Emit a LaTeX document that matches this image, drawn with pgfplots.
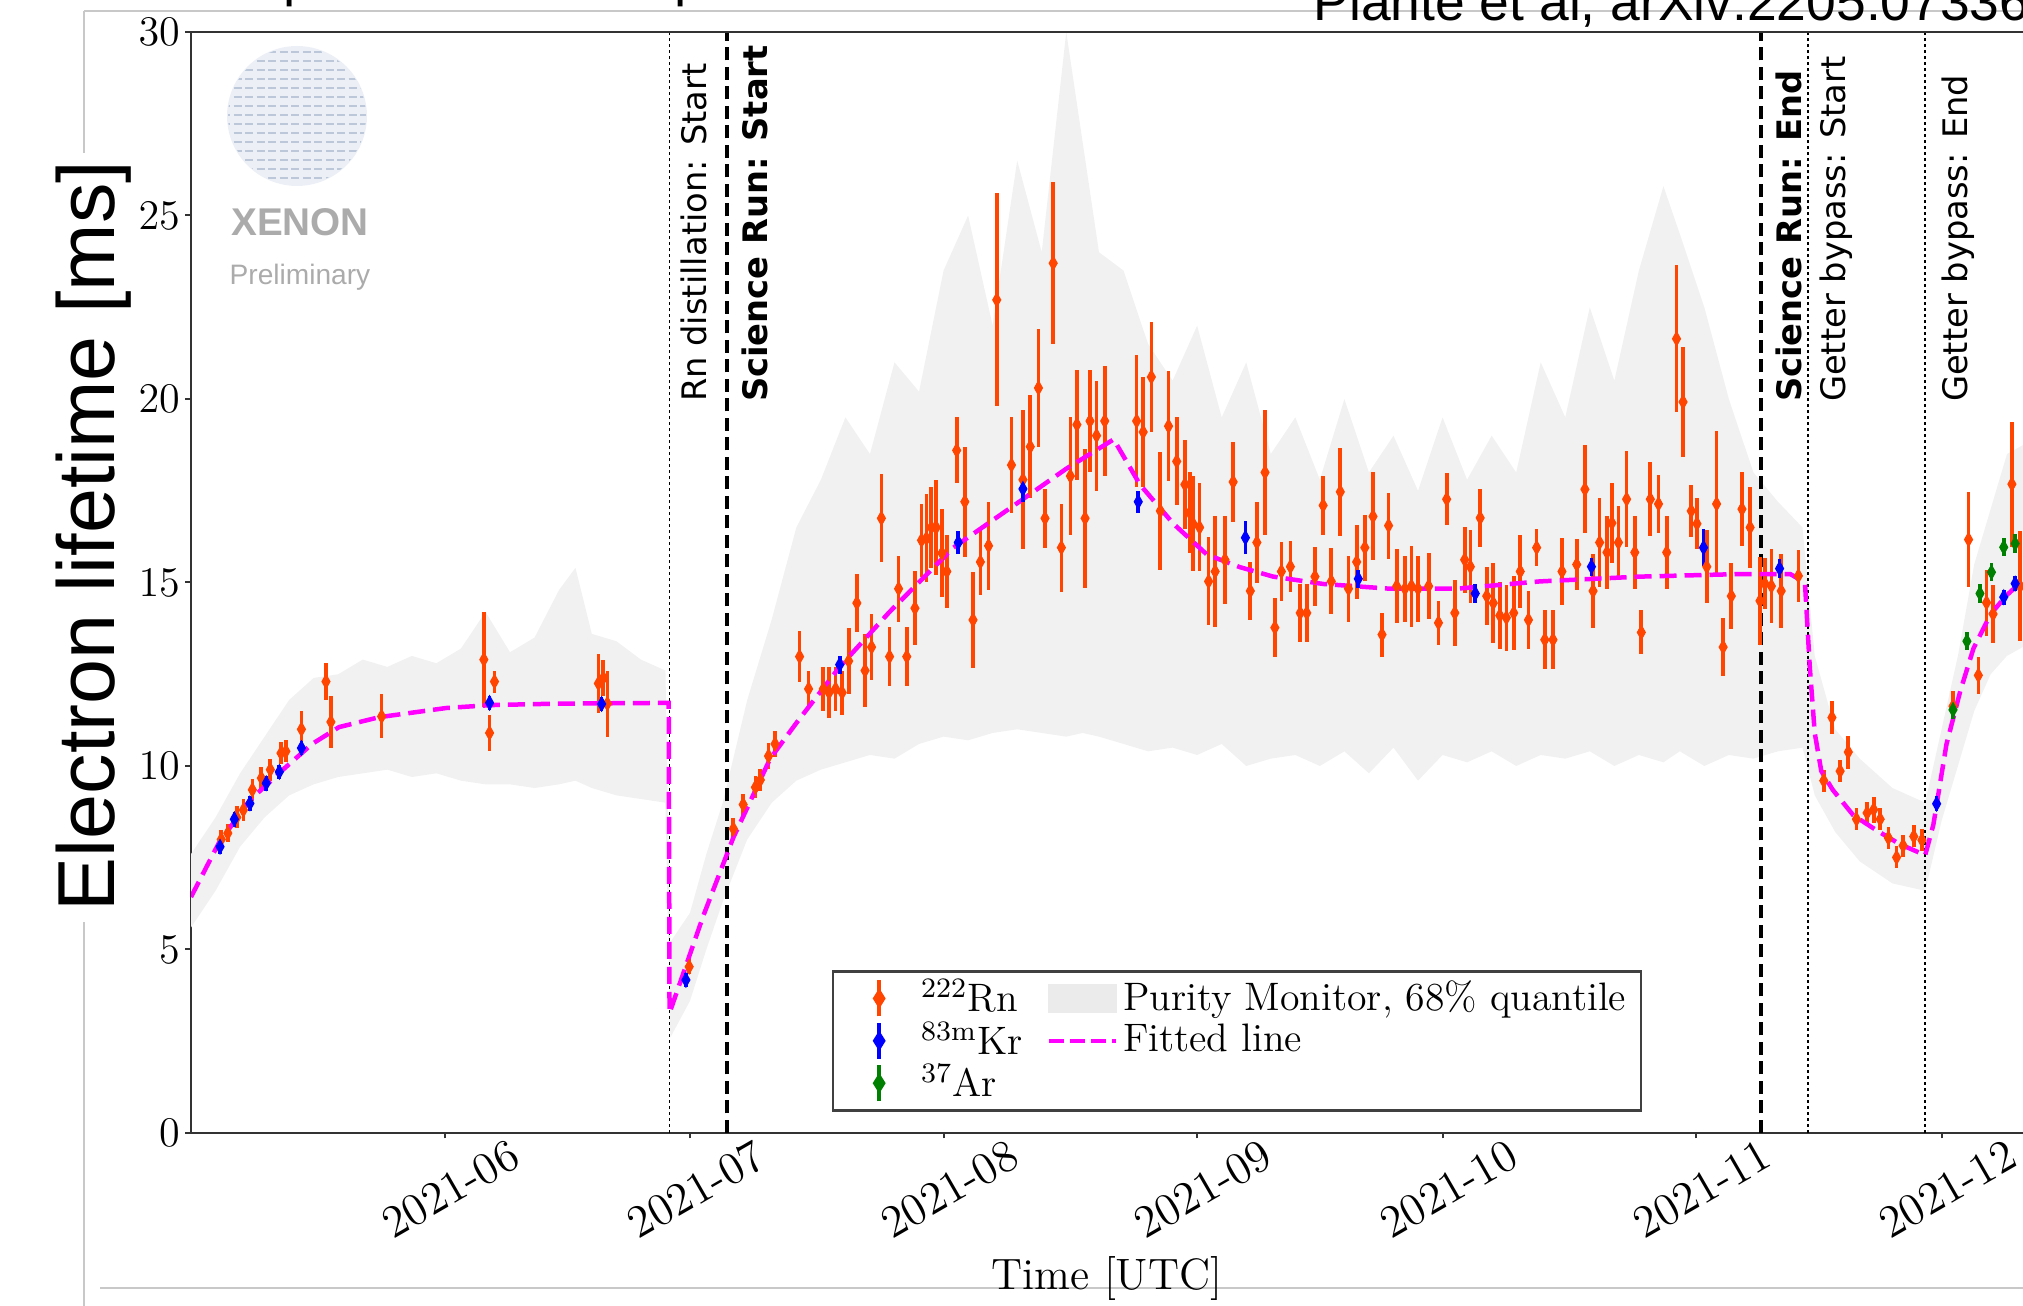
\documentclass[border=0pt]{standalone}
\usepackage{pgfplots}
\usepackage{pgfplotstable}
\pgfplotsset{compat=1.18}
\usepackage{fontspec}
\newfontfamily\dejavu{DejaVu Sans}
\newfontfamily\arial{Liberation Sans}

\definecolor{rn}{RGB}{255,69,0}
\definecolor{kr}{RGB}{0,0,255}
\definecolor{ar}{RGB}{0,128,0}
\definecolor{fitc}{RGB}{255,0,255}
\definecolor{logofill}{RGB}{236,240,246}
\definecolor{logoline}{RGB}{188,200,218}
\definecolor{framec}{RGB}{200,200,200}
\definecolor{bandc}{RGB}{241,241,241}

% x: days since 2021-05-01, y: electron lifetime [ms]
\pgfplotstableread{
d v e
3.7 8.0 0.25
4.5 8.17 0.25
5.6 8.6 0.3
6.4 8.8 0.3
7.5 9.35 0.3
8.6 9.67 0.3
9.7 9.9 0.3
11.0 10.35 0.3
11.6 10.4 0.3
13.5 11.0 0.5
16.5 12.3 0.5
17.1 11.2 0.7
23.3 11.35 0.6
35.8 12.9 1.3
37.1 12.3 0.3
36.5 10.9 0.5
49.8 12.25 0.8
50.4 12.4 0.5
50.9 11.7 0.9
60.9 4.53 0.2
66.3 8.29 0.3
67.5 8.95 0.3
69.0 9.42 0.3
69.6 9.62 0.3
70.6 10.27 0.35
71.4 10.6 0.35
74.4 12.98 0.7
75.5 12.1 0.5
77.3 12.1 0.6
78.0 12.0 0.7
78.8 12.1 0.6
79.6 12.0 0.6
80.4 12.86 0.9
81.4 14.44 0.8
82.4 12.6 1.0
83.2 13.24 0.9
84.4 16.75 1.2
85.4 12.98 0.8
86.5 14.83 0.9
87.5 12.98 0.8
88.5 14.3 1.0
89.3 16.15 1.0
89.9 16.2 1.2
90.5 16.5 1.1
91.1 16.5 1.3
91.8 15.8 1.2
92.4 15.3 1.0
93.6 18.6 0.9
94.6 17.2 1.5
95.6 13.98 1.3
96.5 15.56 0.9
97.5 16.0 1.2
98.5 22.7 2.9
100.3 18.2 1.3
101.7 17.8 1.9
102.6 18.7 1.4
103.6 20.3 1.6
104.4 16.75 0.8
105.4 23.7 2.2
106.4 15.95 1.2
107.5 17.9 1.6
108.3 19.3 1.5
109.3 16.75 1.9
109.9 19.4 1.4
110.7 19.0 1.5
111.7 19.4 1.5
115.6 19.4 1.8
116.4 19.1 1.5
117.4 20.6 1.5
118.5 16.95 1.6
119.5 19.26 1.5
120.5 18.3 1.2
121.5 17.67 1.2
122.1 16.9 1.1
122.5 16.6 1.3
123.3 16.5 1.2
124.4 15.03 1.2
125.2 15.3 1.5
126.4 15.62 1.2
127.4 17.74 1.1
129.5 14.77 0.8
130.3 16.09 1.1
131.3 18.0 1.7
132.5 13.77 0.8
133.3 15.3 0.8
134.4 15.43 0.7
135.6 14.17 0.8
136.4 14.17 0.8
137.4 15.16 0.8
138.4 17.1 0.8
139.4 15.03 0.9
140.5 17.47 1.2
141.5 14.83 0.9
142.5 15.56 1.0
143.5 15.95 0.9
144.5 16.8 1.2
145.6 13.58 0.6
146.4 16.55 0.9
147.4 14.9 1.0
148.4 14.83 0.9
149.2 14.9 1.1
150.0 14.83 0.9
151.3 14.9 0.9
152.5 13.9 0.6
153.5 17.27 0.7
154.5 14.17 0.9
155.7 15.62 0.9
156.4 15.43 1.0
157.6 16.76 0.8
158.4 14.63 0.8
159.2 14.44 1.1
160.0 14.1 0.9
160.8 14.04 0.9
161.7 14.17 1.0
162.5 15.3 1.0
163.5 13.98 0.8
164.5 15.95 0.5
165.5 13.44 0.8
166.5 13.44 0.8
167.6 15.3 0.9
169.4 15.49 0.7
170.4 17.54 1.2
171.4 14.77 1.0
172.2 16.09 1.2
173.1 15.82 1.0
173.7 16.62 1.1
174.5 16.09 1.0
175.5 17.27 1.3
176.5 15.82 1.0
177.3 13.64 0.6
178.4 17.27 1.0
179.4 17.14 0.8
180.4 15.82 1.0
181.6 21.64 2.0
182.4 19.92 1.5
183.4 16.95 0.7
184.1 16.6 0.7
185.3 15.43 1.0
186.5 17.14 2.0
187.3 13.24 0.8
188.3 14.63 0.9
189.6 17.0 1.0
190.6 16.5 1.1
191.8 14.5 1.2
192.4 14.97 0.7
193.2 14.9 1.0
194.4 14.77 1.0
196.5 15.18 0.7
199.6 9.6 0.3
200.6 11.32 0.45
201.6 9.86 0.3
202.6 10.38 0.45
203.6 8.55 0.3
204.9 8.72 0.3
205.7 8.81 0.35
206.5 8.55 0.3
207.5 8.04 0.3
208.5 7.51 0.3
209.3 7.83 0.3
210.6 8.08 0.3
211.6 7.98 0.3
215.4 11.63 0.4
217.3 16.17 1.3
218.5 12.47 0.5
219.5 14.45 0.9
220.3 14.14 0.8
222.6 17.68 1.7
223.6 14.9 1.5
}\rntab

\pgfplotstableread{
d v e
3.55 7.8 0.2
5.3 8.55 0.2
7.2 8.98 0.2
9.2 9.53 0.2
10.8 9.84 0.2
13.5 10.49 0.2
36.5 11.72 0.2
50.2 11.69 0.2
60.5 4.17 0.2
79.3 12.76 0.25
93.8 16.09 0.3
101.7 17.55 0.35
115.8 17.2 0.3
128.9 16.22 0.45
142.7 15.1 0.25
157.0 14.7 0.25
171.2 15.43 0.25
184.9 15.95 0.5
194.2 15.38 0.25
213.4 8.97 0.2
221.6 14.6 0.2
223.0 14.97 0.2
}\krtab

\pgfplotstableread{
d v e
215.4 11.53 0.25
217.1 13.4 0.25
218.7 14.7 0.25
220.1 15.28 0.25
221.6 15.96 0.25
223.0 16.06 0.25
}\artab

\pgfplotstableread{
d v
0 6.43
3.4 7.9
7.2 9.07
11.6 9.97
14.8 10.6
18.1 11.06
23 11.33
31.2 11.58
36.7 11.66
45 11.7
58.4 11.72
58.5 3.27
62.6 5.9
66.3 8.05
70.8 10.2
74.1 11.2
79.3 12.7
85.4 14.2
93.2 15.95
101.7 17.27
107 18.1
112.8 18.9
116 17.67
120.1 16.6
124.2 15.76
128.2 15.42
132.3 15.16
138.4 14.96
146.6 14.83
154.7 14.83
164.9 15.03
177.1 15.16
189.4 15.23
195.5 15.23
197.3 15.0
197.9 12.67
198.5 10.9
199.3 9.86
200.7 9.35
203.2 8.66
206.1 8.24
208.9 7.87
212 7.57
213 8.4
214.6 10.59
216.3 12.05
217.9 13.2
220 14.14
222 14.66
224 15.07
226 15.4
}\fittab

% purity monitor 68% band, outline: upper bound forward, lower bound back
\pgfplotstableread{
d v
0 7.6
3 8.6
6 9.8
9 10.8
12 11.8
15 12.4
18 12.5
21 12.9
24 12.7
27 13.0
30 12.8
33 13.2
36 14.2
39 13.1
42 13.5
45 14.8
47 15.4
49 13.6
52 13.4
55 12.9
58 12.6
58.6 5.2
61 6.0
63 7.6
65 9.0
68 11.8
71 14.0
74 16.5
77 17.8
80 19.5
83 18.5
86 21.0
89 20.2
92 23.5
95 25.0
98 22.0
101 26.5
104 24.0
107 30
109 27
111 24
114 23.5
117 21.5
120 20.5
123 22
126 19.5
129 21
132 18.5
135 19.5
138 17.8
141 20
144 18
147 19
150 17.5
153 19.5
156 17.8
159 19
162 18
165 21
168 19.5
171 22.5
174 20.5
177 23.5
180 25.8
182 24.5
185 22.5
188 20
191 18
194 17.2
197 16.5
198.5 13
201 11
204 10.2
208 9.4
212 9.0
214 11.0
216 13.0
218 15.5
220 17.0
222 18.5
226 19
226 13.5
222 13.0
220 12.5
218 11.5
216 10.0
214 8.5
212 6.6
208 6.8
204 7.4
201 8.2
198.5 9.2
197 10.5
194 10.4
191 10.2
188 10.3
185 10.0
182 10.4
180 10.1
177 10.3
174 10.0
171 10.4
168 10.2
165 10.3
162 10.0
159 10.4
156 10.1
153 10.3
150 9.6
147 10.5
144 9.8
141 10.4
138 10.0
135 10.3
132 10.2
129 10.0
126 10.6
123 10.3
120 10.5
117 10.4
114 10.6
111 10.8
109 10.9
107 10.8
104 10.9
101 11.0
98 10.9
95 10.7
92 10.8
89 10.6
86 10.2
83 10.3
80 10.1
77 9.9
74 9.6
71 9.0
68 8.0
65 6.3
63 5.0
61 3.6
58.6 2.6
58 9.0
55 9.1
52 9.2
49 9.4
47 9.6
45 9.5
42 9.4
39 9.5
36 9.5
33 9.6
30 9.8
27 9.7
24 9.9
21 9.8
18 9.7
15 9.5
12 9.2
9 8.6
6 7.8
3 6.6
0 5.6
}\bandtab

\pgfplotsset{
  rnleg/.style={legend image code/.code={
    \path[draw=none, fill=none] (0mm,-1.8mm) rectangle (7.3mm,1.8mm);
    \draw[rn, line width=0.36mm] (3.6mm,-1.8mm) -- (3.6mm,1.8mm);
    \fill[rn] (3.6mm,0.8mm) -- (4.1mm,0mm) -- (3.6mm,-0.8mm) -- (3.1mm,0mm) -- cycle;}},
  krleg/.style={legend image code/.code={
    \path[draw=none, fill=none] (0mm,-1.8mm) rectangle (7.3mm,1.8mm);
    \draw[kr, line width=0.36mm] (3.6mm,-1.8mm) -- (3.6mm,1.8mm);
    \fill[kr] (3.6mm,0.8mm) -- (4.1mm,0mm) -- (3.6mm,-0.8mm) -- (3.1mm,0mm) -- cycle;}},
  arleg/.style={legend image code/.code={
    \path[draw=none, fill=none] (0mm,-1.8mm) rectangle (7.3mm,1.8mm);
    \draw[ar, line width=0.36mm] (3.6mm,-1.8mm) -- (3.6mm,1.8mm);
    \fill[ar] (3.6mm,0.8mm) -- (4.1mm,0mm) -- (3.6mm,-0.8mm) -- (3.1mm,0mm) -- cycle;}},
  pts/.style={only marks, mark=diamond*, mark size=0.68mm,
    mark options={xscale=0.75, draw=#1, fill=#1},
    error bars/y dir=both, error bars/y explicit, error bars/error mark=none,
    error bars/error bar style={#1, line width=0.37mm}},
}

\begin{document}
\begin{tikzpicture}
\begin{scope}
\clip (0,0) rectangle (202.3mm,-130.6mm);

% frame of the embedded figure and the logo (pixel grid, origin top-left)
\begin{scope}[x=0.1mm, y=-0.1mm]
  \draw[framec, line width=0.25mm] (84,11) -- (2030,11);
  \draw[framec, line width=0.25mm] (84,11) -- (84,153);
  \draw[framec, line width=0.25mm] (84,922) -- (84,1310);
  \draw[framec, line width=0.25mm] (100,1288) -- (2030,1288);
  \fill[logofill] (297,116) circle (70);
  \begin{scope}
    \clip (297,116) circle (69);
    \foreach \yy in {52,61,...,184}
      \draw[logoline, line width=0.28mm, dash pattern=on 0.8mm off 0.35mm] (222,\yy) -- (372,\yy);
  \end{scope}
  \node[text=black!33, font=\arial\bfseries\fontsize{11}{13}\selectfont, inner sep=0] at (300,222) {XENON};
  \node[text=black!33, font=\arial\fontsize{8}{10}\selectfont, inner sep=0] at (300,277) {Preliminary};
\end{scope}

\begin{axis}[
  at={(19.1mm,-113.3mm)}, anchor=south west,
  scale only axis, width=184.87mm, height=110.1mm,
  xmin=0, xmax=226, ymin=0, ymax=30,
  axis line style={line width=0.2mm, black!80},
  tick style={line width=0.2mm, black!80},
  tick align=outside, tick pos=left, major tick length=0.55mm,
  xtick={31,61,92,123,153,184,214},
  xticklabels={2021-06,2021-07,2021-08,2021-09,2021-10,2021-11,2021-12},
  ytick={0,5,...,30},
  tick label style={font=\fontsize{13}{15}\selectfont},
  yticklabel style={inner sep=0pt, xshift=-0.5mm},
  xticklabel style={inner sep=0pt, xshift=6.3mm, yshift=0.1mm, rotate=30, anchor=north east},
  xlabel={Time [UTC]},
  xlabel style={font=\fontsize{12.5}{15}\selectfont, at={(rel axis cs:0.4955,0)}, anchor=base, yshift=-15.7mm},
  legend columns=2, legend cell align=left,
  legend style={at={(rel axis cs:0.3467,0.148)}, anchor=north west,
    draw=black!75, line width=0.25mm, fill=white,
    font=\fontsize{11.3}{13}\selectfont, inner xsep=1mm, inner ysep=0.6mm,
    nodes={inner xsep=0.5mm, inner ysep=0.25mm},
    row sep=0pt, /tikz/every even column/.append style={column sep=1.9mm}},
]
  % purity monitor 68% band
  \addplot[fill=bandc, draw=none, forget plot] table[x=d, y=v] {\bandtab};

  % operation markers
  \addplot[black, line width=0.15mm, dash pattern=on 0.3mm off 0.3mm, forget plot] coordinates {(58.5,0) (58.5,30)};
  \addplot[black, line width=0.35mm, dash pattern=on 1.3mm off 0.65mm, forget plot] coordinates {(65.5,0) (65.5,30)};
  \addplot[black, line width=0.35mm, dash pattern=on 1.3mm off 0.65mm, forget plot] coordinates {(191.9,0) (191.9,30)};
  \addplot[black, line width=0.15mm, dash pattern=on 0.3mm off 0.3mm, forget plot] coordinates {(197.7,0) (197.7,30)};
  \addplot[black, line width=0.15mm, dash pattern=on 0.3mm off 0.3mm, forget plot] coordinates {(212.0,0) (212.0,30)};

  \node[rotate=90, anchor=north west, inner sep=0, font=\dejavu\fontsize{9.6}{11}\selectfont] at (axis cs:59.85,19.9) {Rn distillation: Start};
  \node[rotate=90, anchor=north west, inner sep=0, font=\dejavu\bfseries\fontsize{9.6}{11}\selectfont] at (axis cs:67.2,19.9) {Science Run: Start};
  \node[rotate=90, anchor=north west, inner sep=0, font=\dejavu\bfseries\fontsize{9.6}{11}\selectfont] at (axis cs:193.6,19.9) {Science Run: End};
  \node[rotate=90, anchor=north west, inner sep=0, font=\dejavu\fontsize{9.6}{11}\selectfont] at (axis cs:199.05,19.9) {Getter bypass: Start};
  \node[rotate=90, anchor=north west, inner sep=0, font=\dejavu\fontsize{9.6}{11}\selectfont] at (axis cs:213.9,19.9) {Getter bypass: End};

  % measurements
  \addplot[forget plot, pts=rn] table[x=d, y=v, y error=e] {\rntab};
  \addplot[forget plot, fitc, line width=0.45mm, dash pattern=on 1.7mm off 0.8mm] table[x=d, y=v] {\fittab};
  \addplot[forget plot, pts=kr] table[x=d, y=v, y error=e] {\krtab};
  \addplot[forget plot, pts=ar] table[x=d, y=v, y error=e] {\artab};

  \draw[line width=0.2mm, black!80] (rel axis cs:0,1) -- (rel axis cs:1,1);

  % legend
  \addlegendimage{rnleg}
  \addlegendentry{$^{222}$Rn}
  \addlegendimage{legend image code/.code={\fill[black!8] (0mm,-1.3mm) rectangle (6.7mm,1.3mm);}}
  \addlegendentry{Purity Monitor, 68\% quantile}
  \addlegendimage{krleg}
  \addlegendentry{$^{83\mathrm{m}}$Kr}
  \addlegendimage{legend image code/.code={\draw[fitc, line width=0.45mm, dash pattern=on 1.5mm off 0.6mm] (0mm,0mm) -- (6.7mm,0mm);}}
  \addlegendentry{Fitted line}
  \addlegendimage{arleg}
  \addlegendentry{$^{37}$Ar}
\end{axis}

% slide overlays
\begin{scope}[x=0.1mm, y=-0.1mm]
  \node[rotate=90, anchor=base, inner sep=0, font=\arial\fontsize{23}{28}\selectfont] at (114,536) {Electron lifetime [ms]};
  \node[anchor=base west, inner sep=0, font=\arial\fontsize{15.2}{18}\selectfont] at (1313,20.7) {Plante et al, arXiv:2205.07336};
  \node[anchor=base west, inner sep=0, font=\arial\fontsize{15.6}{18}\selectfont] at (283,-4.6) {p};
  \node[anchor=base west, inner sep=0, font=\arial\fontsize{15.6}{18}\selectfont] at (674,-4.6) {p};
\end{scope}
\end{scope}
\pgfresetboundingbox
\useasboundingbox (0,0) rectangle (202.3mm,-130.6mm);
\end{tikzpicture}
\end{document}
